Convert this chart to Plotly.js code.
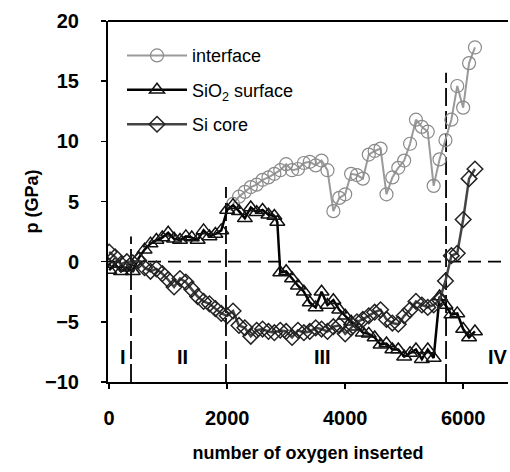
<!DOCTYPE html>
<html><head><meta charset="utf-8">
<script src="https://cdn.plot.ly/plotly-3.0.1.min.js"></script>
<style>html,body{margin:0;padding:0;background:#fff}#chart{width:510px;height:472px}</style>
</head><body><div id="chart"></div>
<script>
// interface (gray, open circles)
const interfaceX = [2100,2200,2300,2400,2500,2600,2700,2800,2900,3000,3100,3200,3300,3400,3500,3600,3700,3800,3900,4000,4100,4200,4300,4400,4500,4600,4700,4800,4900,5000,5100,5200,5300,5400,5500,5600,5700,5800,5900,6000,6100,6200];
const interfaceY = [4.8,5.4,5.8,6.2,6.4,6.8,7.0,7.3,7.6,8.1,7.6,7.7,8.2,8.3,8.0,8.4,7.6,4.2,5.3,5.6,7.3,7.2,6.9,8.9,9.2,9.4,5.6,7.0,7.8,8.4,9.8,11.8,11.2,10.8,6.3,8.5,10.1,11.8,14.6,12.8,16.5,17.8];
// SiO2 surface (black, open triangles)
const sio2X = [0,100,200,300,400,500,600,700,800,900,1000,1100,1200,1300,1400,1500,1600,1700,1800,1900,2000,2100,2200,2300,2400,2500,2600,2700,2800,2850,2900,3000,3100,3200,3300,3400,3500,3600,3700,3800,3900,4000,4100,4200,4300,4400,4500,4600,4700,4800,4900,5000,5100,5200,5300,5400,5500,5600,5700,5800,5900,6000,6100,6200];
const sio2Y = [-0.7,-0.2,-0.8,-0.5,-0.8,0.3,1.0,1.5,1.8,2.0,2.4,1.9,1.8,2.1,2.0,1.8,2.6,2.1,2.3,2.6,4.3,4.7,4.2,3.6,4.5,4.1,4.3,3.9,3.8,3.3,-0.9,-0.8,-1.4,-2.0,-2.5,-3.4,-3.8,-2.5,-3.6,-3.2,-4.0,-4.5,-5.0,-5.4,-5.9,-6.0,-6.3,-6.9,-6.8,-7.3,-7.3,-7.9,-7.6,-7.3,-8.1,-7.3,-8.0,-2.9,-3.6,-4.4,-4.3,-5.6,-6.3,-5.8];
// Si core (dark gray, diamonds)
const coreX = [0,100,200,300,400,500,600,700,800,900,1000,1100,1200,1300,1400,1500,1600,1700,1800,1900,2000,2100,2200,2300,2400,2500,2600,2700,2800,2900,3000,3100,3200,3300,3400,3500,3600,3700,3800,3900,4000,4100,4200,4300,4400,4500,4600,4700,4800,4900,5000,5100,5200,5300,5400,5500,5600,5700,5800,5900,6000,6100,6200];
const coreY = [0.8,0.4,-0.2,0.0,-0.1,0.1,-0.5,-0.8,-0.6,-1.0,-1.5,-2.1,-1.4,-1.7,-2.3,-2.9,-3.3,-3.5,-3.9,-4.3,-4.5,-4.1,-5.3,-5.5,-6.2,-5.7,-5.6,-5.8,-5.9,-5.7,-5.8,-6.3,-5.7,-5.9,-5.8,-5.5,-5.6,-5.8,-5.4,-5.3,-6.0,-5.5,-5.0,-4.8,-4.5,-4.2,-4.0,-4.8,-5.1,-5.2,-4.5,-4.0,-3.3,-3.6,-3.8,-3.6,-3.2,-1.6,0.5,0.7,3.5,6.9,7.7];
// regime boundaries and labels
const boundaryX = [370, 1980, 5710];
const boundaryTop = [2.1, 6.2, 15.7];
const regionLabels = ['I','II','III','IV'];
const regionX = [240, 1240, 3610, 6590];
const regionY = [-7.9, -7.9, -7.9, -7.9];
const seriesNames = ['interface','SiO<sub>2</sub> surface','Si core'];

const F = '"Liberation Sans", Arial, sans-serif';
const traces = [
  {x: interfaceX, y: interfaceY, name: seriesNames[0], legendgroup:'a', mode:'lines+markers',
   line:{color:'#9a9a9a', width:2}, marker:{symbol:'circle-open', size:13, color:'#8a8a8a', line:{width:1.2}}},
  {x: sio2X, y: sio2Y, name: seriesNames[1], legendgroup:'b', mode:'lines+markers',
   line:{color:'#000', width:2.5}, marker:{symbol:'triangle-up-open', size:13, color:'#111', line:{width:1.5}}},
  {x: coreX, y: coreY, name: seriesNames[2], legendgroup:'c', mode:'lines+markers',
   line:{color:'#444', width:2.5}, marker:{symbol:'diamond-open', size:12, color:'#222', line:{width:1.5}}}
];

const shapes = [{type:'line', xref:'paper', x0:0, x1:1, yref:'y', y0:0, y1:0, line:{color:'#000', width:1.8, dash:'13px,7px'}, layer:'below'}];
boundaryX.forEach((bx,i)=>shapes.push({type:'line', xref:'x', x0:bx, x1:bx, yref:'y', y0:-10, y1:boundaryTop[i], line:{color:'#000', width:1.8, dash:'18px,5px'}, layer:'below'}));
const annotations = regionLabels.map((t,i)=>({x:regionX[i], y:regionY[i], xref:'x', yref:'y', text:'<b>'+t+'</b>', showarrow:false, font:{family:F, size:20, color:'#000'}}));

const layout = {
  width:510, height:472,
  margin:{l:108, r:2, t:21, b:90},
  paper_bgcolor:'#fff', plot_bgcolor:'#fff',
  font:{family:F, color:'#000'},
  showlegend:true,
  legend:{x:0.035, y:0.955, xanchor:'left', yanchor:'top', bgcolor:'rgba(0,0,0,0)', font:{family:F, size:18}, tracegroupgap:8, itemwidth:60},
  xaxis:{range:[-20,6760], tickvals:[0,2000,4000,6000], ticktext:['0','2000','4000','6000'],
    showgrid:false, zeroline:false, showline:true, linecolor:'#000', linewidth:2, mirror:false,
    ticks:'outside', ticklen:5, tickwidth:1.5, tickcolor:'#000', ticklabelstandoff:12,
    tickfont:{family:F, size:20, weight:'bold'},
    title:{text:'<b>number of oxygen inserted</b>', font:{family:F, size:18}, standoff:18}},
  yaxis:{range:[-10,20], tickvals:[-10,-5,0,5,10,15,20],
    showgrid:false, zeroline:false, showline:true, linecolor:'#000', linewidth:2,
    ticks:'outside', ticklen:5, tickwidth:1.5, tickcolor:'#000', ticklabelstandoff:18,
    tickfont:{family:F, size:20, weight:'bold'},
    title:{text:'<b>p (GPa)</b>', font:{family:F, size:18}, standoff:2}},
  shapes: shapes.concat([{type:'line', xref:'paper', yref:'paper', x0:0, x1:1, y0:1, y1:1, line:{color:'#000', width:2}}]),
  annotations: annotations
};
Plotly.newPlot('chart', traces, layout, {displayModeBar:false, staticPlot:true});
</script></body></html>
